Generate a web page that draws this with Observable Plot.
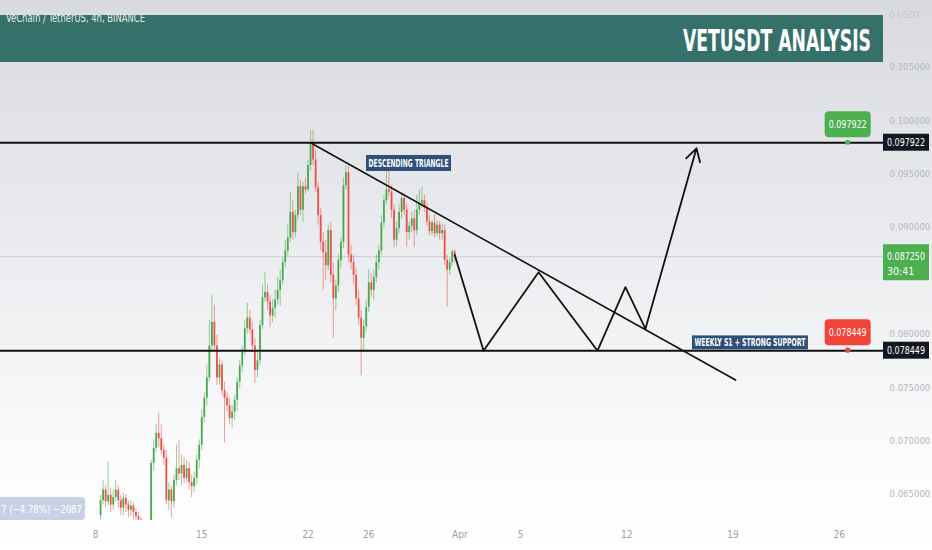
<!DOCTYPE html>
<html><head><meta charset="utf-8">
<script src="https://cdn.jsdelivr.net/npm/d3@7"></script>
<script src="https://cdn.jsdelivr.net/npm/@observablehq/plot@0.6"></script>
<style>
html,body{margin:0;padding:0;background:#fff;}
#wrap{position:relative;width:932px;height:550px;overflow:hidden;
background:linear-gradient(180deg,#d8dadf 0%,#e4e6ea 30%,#f1f2f4 60%,#fcfcfd 85%,#ffffff 100%);}
</style></head><body><div id="wrap"></div>
<script>
const FONT = '"Liberation Sans Narrow","DejaVu Sans Condensed","Roboto Condensed",Roboto,sans-serif';

// ---- data: VET/USDT 4h candles ----
const firstBar = "2021-03-08T08:00:00Z";
const barHours = 4;
const open = [0.0630,0.0644,0.0654,0.0643,0.0649,0.0640,0.0647,0.0654,0.0644,0.0637,
0.0646,0.0640,0.0635,0.0639,0.0633,0.0629,0.0626,0.0616,0.0612,0.0614,
0.0618,0.0679,0.0693,0.0707,0.0702,0.0691,0.0684,0.0644,0.0654,0.0643,
0.0663,0.0674,0.0669,0.0677,0.0665,0.0674,0.0661,0.0657,0.0665,0.0682,
0.0696,0.0722,0.0740,0.0759,0.0789,0.0811,0.0789,0.0759,0.0771,0.0747,
0.0740,0.0733,0.0721,0.0727,0.0738,0.0755,0.0770,0.0785,0.0805,0.0815,
0.0804,0.0789,0.0766,0.0775,0.0808,0.0834,0.0839,0.0830,0.0817,0.0824,
0.0832,0.0841,0.0850,0.0867,0.0878,0.0890,0.0914,0.0895,0.0911,0.0938,
0.0916,0.0938,0.0935,0.0958,0.0977,0.0963,0.0937,0.0911,0.0886,0.0876,
0.0864,0.0897,0.0855,0.0833,0.0845,0.0869,0.0886,0.0939,0.0951,0.0874,
0.0867,0.0855,0.0833,0.0815,0.0796,0.0807,0.0825,0.0848,0.0841,0.0853,
0.0867,0.0878,0.0904,0.0925,0.0935,0.0933,0.0916,0.0888,0.0899,0.0914,
0.0927,0.0916,0.0895,0.0901,0.0908,0.0897,0.0916,0.0922,0.0925,0.0918,
0.0905,0.0896,0.0904,0.0894,0.0902,0.0894,0.0897,0.0869,0.0860,0.0867,
0.0877];
const high = [0.0649,0.0663,0.0658,0.0680,0.0656,0.0654,0.0663,0.0658,0.0649,0.0651,
0.0650,0.0644,0.0644,0.0642,0.0637,0.0633,0.0628,0.0619,0.0618,0.0622,
0.0682,0.0701,0.0715,0.0726,0.0715,0.0696,0.0691,0.0661,0.0658,0.0668,
0.0696,0.0701,0.0687,0.0684,0.0682,0.0680,0.0668,0.0671,0.0687,0.0701,
0.0729,0.0745,0.0771,0.0813,0.0836,0.0827,0.0799,0.0777,0.0775,0.0755,
0.0745,0.0740,0.0733,0.0743,0.0759,0.0775,0.0789,0.0813,0.0829,0.0822,
0.0811,0.0796,0.0783,0.0813,0.0846,0.0858,0.0846,0.0836,0.0832,0.0841,
0.0853,0.0860,0.0871,0.0888,0.0902,0.0933,0.0925,0.0916,0.0951,0.0944,
0.0942,0.0946,0.0963,0.0991,0.0991,0.0972,0.0942,0.0918,0.0895,0.0888,
0.0902,0.0905,0.0867,0.0850,0.0874,0.0890,0.0946,0.0958,0.0957,0.0883,
0.0874,0.0862,0.0841,0.0822,0.0813,0.0832,0.0860,0.0856,0.0860,0.0874,
0.0883,0.0911,0.0930,0.0953,0.0955,0.0939,0.0921,0.0905,0.0921,0.0932,
0.0932,0.0921,0.0905,0.0914,0.0916,0.0930,0.0935,0.0937,0.0930,0.0923,
0.0911,0.0906,0.0912,0.0906,0.0905,0.0903,0.0902,0.0874,0.0871,0.0879,
0.0879];
const low = [0.0626,0.0640,0.0637,0.0639,0.0633,0.0635,0.0643,0.0637,0.0630,0.0630,
0.0633,0.0628,0.0629,0.0626,0.0624,0.0621,0.0611,0.0607,0.0605,0.0609,
0.0616,0.0672,0.0689,0.0694,0.0687,0.0677,0.0640,0.0635,0.0628,0.0637,
0.0658,0.0663,0.0658,0.0660,0.0661,0.0654,0.0647,0.0652,0.0659,0.0674,
0.0691,0.0717,0.0733,0.0755,0.0785,0.0783,0.0752,0.0752,0.0742,0.0698,
0.0727,0.0715,0.0712,0.0719,0.0727,0.0749,0.0764,0.0780,0.0800,0.0800,
0.0783,0.0754,0.0759,0.0771,0.0804,0.0830,0.0822,0.0806,0.0811,0.0815,
0.0827,0.0826,0.0846,0.0862,0.0873,0.0886,0.0888,0.0890,0.0906,0.0911,
0.0905,0.0931,0.0933,0.0953,0.0958,0.0933,0.0902,0.0878,0.0841,0.0850,
0.0860,0.0848,0.0796,0.0822,0.0839,0.0862,0.0880,0.0935,0.0867,0.0860,
0.0846,0.0827,0.0808,0.0761,0.0783,0.0802,0.0820,0.0834,0.0832,0.0848,
0.0860,0.0874,0.0899,0.0921,0.0929,0.0908,0.0881,0.0882,0.0894,0.0908,
0.0911,0.0881,0.0888,0.0895,0.0881,0.0892,0.0911,0.0918,0.0914,0.0901,
0.0892,0.0892,0.0890,0.0891,0.0888,0.0888,0.0864,0.0825,0.0855,0.0863,
0.0867];
const close = [0.0644,0.0654,0.0643,0.0649,0.0640,0.0647,0.0654,0.0644,0.0637,0.0646,
0.0640,0.0635,0.0639,0.0633,0.0629,0.0626,0.0616,0.0612,0.0614,0.0618,
0.0679,0.0693,0.0707,0.0702,0.0691,0.0684,0.0644,0.0654,0.0643,0.0663,
0.0674,0.0669,0.0677,0.0665,0.0674,0.0661,0.0657,0.0665,0.0682,0.0696,
0.0722,0.0740,0.0759,0.0789,0.0811,0.0789,0.0759,0.0771,0.0747,0.0740,
0.0733,0.0721,0.0727,0.0738,0.0755,0.0770,0.0785,0.0805,0.0815,0.0804,
0.0789,0.0766,0.0775,0.0808,0.0834,0.0839,0.0830,0.0817,0.0824,0.0832,
0.0841,0.0850,0.0867,0.0878,0.0890,0.0914,0.0895,0.0911,0.0938,0.0916,
0.0938,0.0935,0.0958,0.0977,0.0963,0.0937,0.0911,0.0886,0.0876,0.0864,
0.0897,0.0855,0.0833,0.0845,0.0869,0.0886,0.0939,0.0951,0.0874,0.0867,
0.0855,0.0833,0.0815,0.0796,0.0807,0.0825,0.0848,0.0841,0.0853,0.0867,
0.0878,0.0904,0.0925,0.0935,0.0933,0.0916,0.0888,0.0899,0.0914,0.0927,
0.0916,0.0895,0.0901,0.0908,0.0897,0.0916,0.0922,0.0925,0.0918,0.0905,
0.0896,0.0904,0.0894,0.0902,0.0894,0.0897,0.0869,0.0860,0.0867,0.0877,
0.0872];

const resistance = 0.097922;
const support = 0.078449;
const lastPrice = 0.087250;
const countdown = "30:41";

const xTickDates = ["2021-03-08","2021-03-15","2021-03-22","2021-03-26","2021-04-01","2021-04-05","2021-04-12","2021-04-19","2021-04-26"];
const xTickLabels = ["8","15","22","26","Apr","5","12","19","26"];
// 0.085000 sits under the current-price tag in the reference
const yTicks = [0.065,0.070,0.075,0.080,0.090,0.095,0.100,0.105];

// descending triangle upper trend line
const trendDates = ["2021-03-22T04:00Z","2021-04-19T04:00Z"];
const trendPrices = [0.097922,0.0757];
// projected zig-zag path (last segment is the arrow)
const pathDates = ["2021-03-31T16:00Z","2021-04-02T13:30Z","2021-04-06T04:30Z","2021-04-10T01:40Z","2021-04-11T21:50Z","2021-04-13T05:30Z","2021-04-16T14:10Z"];
const pathPrices = [0.0874,0.07845,0.0858,0.07845,0.0844,0.0805,0.0974];

const annotations = [
  {text:"DESCENDING TRIANGLE", date:"2021-03-28T15:40Z", price:0.09598, w:85, h:16, len:80},
  {text:"WEEKLY S1 + STRONG SUPPORT", date:"2021-04-20T03:30Z", price:0.07918, w:116, h:14, len:111}
];
const markerDate = "2021-04-26T14:00Z";
const titleText = "VETUSDT ANALYSIS";
const subtitleText = "VeChain / TetherUS, 4h, BINANCE";
const measureText = "7 (−4.78%) −2087";

// ---- build ----
const t0 = +new Date(firstBar);
const bars = open.map((o,i)=>({date:new Date(t0 + i*barHours*3600e3), open:o, high:high[i], low:low[i], close:close[i]}));
const GREEN = "#43a547", RED = "#ef4a43";
const col = d => d.close >= d.open ? GREEN : RED;
const trend = trendDates.map((d,i)=>({date:new Date(d), price:trendPrices[i]}));
const path = pathDates.map((d,i)=>({date:new Date(d), price:pathPrices[i]}));
const lastSeg = [{x1:path[5].date, y1:path[5].price, x2:path[6].date, y2:path[6].price}];
const labelMap = new Map(xTickDates.map((d,i)=>[+new Date(d+"T00:00Z"), xTickLabels[i]]));

const chart = Plot.plot({
  width:932, height:550, marginLeft:0, marginRight:47, marginTop:0, marginBottom:30,
  style:{background:"transparent", fontFamily:FONT, fontSize:"10px", overflow:"visible"},
  x:{type:"utc", domain:[new Date("2021-03-01T17:48Z"), new Date("2021-04-29T01:00Z")], label:null},
  y:{domain:[0.06255,0.11124], label:null},
  color:{type:"identity"},
  marks:[
    Plot.ruleY([lastPrice], {stroke:"#8f96a0", strokeOpacity:0.45, strokeWidth:0.8}),
    Plot.ruleX(bars, {x:"date", y1:"low", y2:"high", stroke:col, strokeWidth:1, strokeOpacity:0.55, clip:true}),
    Plot.ruleX(bars, {x:"date", y1:"open", y2:"close", stroke:col, strokeWidth:1.8, strokeOpacity:0.95, clip:true}),
    Plot.ruleY([resistance, support], {stroke:"#111", strokeWidth:2}),
    Plot.line(trend, {x:"date", y:"price", stroke:"#111", strokeWidth:1.6}),
    Plot.line(path.slice(0,6), {x:"date", y:"price", stroke:"#111", strokeWidth:1.8}),
    Plot.arrow(lastSeg, {x1:"x1", y1:"y1", x2:"x2", y2:"y2", stroke:"#111", strokeWidth:1.8, headLength:12, bend:0}),
    Plot.axisY({anchor:"right", ticks:yTicks, tickFormat:d3.format(".6f"), tickSize:0, tickPadding:4, fill:"#b3b7bf", fontSize:9.5}),
    Plot.axisX({ticks:xTickDates.map(d=>new Date(d+"T00:00Z")), tickFormat:d=>labelMap.get(+d), tickSize:0, tickPadding:10, fill:"#9da0a7", fontSize:10})
  ]
});
document.getElementById("wrap").appendChild(chart);

const svg = d3.select(chart);
const X = chart.scale("x"), Y = chart.scale("y");
const g = svg.append("g").attr("font-family", FONT).attr("text-anchor","start");

// header banner
g.append("rect").attr("x",0).attr("y",15).attr("width",883).attr("height",47).attr("fill","#36706a");
g.append("text").attr("transform","translate(683,40) scale(1,1.4)").attr("text-anchor","start").attr("dominant-baseline","central")
 .attr("font-size",22).attr("font-weight","bold").attr("fill","#fff")
 .attr("textLength",188).attr("lengthAdjust","spacingAndGlyphs").text(titleText);
g.append("text").attr("x",6).attr("y",18).attr("text-anchor","start").attr("dominant-baseline","central")
 .attr("font-size",11.5).attr("fill","#e3e8e7")
 .attr("textLength",139).attr("lengthAdjust","spacingAndGlyphs").text(subtitleText);
g.append("text").attr("x",889).attr("y",14).attr("text-anchor","start").attr("dominant-baseline","central")
 .attr("font-size",9.5).attr("fill","#c3c6cc").text("0.USDT");

// right price boxes for horizontal lines
for (const v of [resistance, support]) {
  const y = Y.apply(v);
  g.append("rect").attr("x",883).attr("y",y-8.5).attr("width",46).attr("height",17).attr("fill","#131722");
  g.append("text").attr("x",887).attr("y",y).attr("text-anchor","start").attr("dominant-baseline","central")
   .attr("font-size",10.5).attr("fill","#fff").attr("textLength",38).attr("lengthAdjust","spacingAndGlyphs")
   .text(d3.format(".6f")(v));
}
// current price box
{
  const y = Y.apply(lastPrice);
  g.append("rect").attr("x",883).attr("y",y-12).attr("width",46).attr("height",36).attr("fill","#4caf50");
  g.append("text").attr("x",887).attr("y",y).attr("text-anchor","start").attr("dominant-baseline","central")
   .attr("font-size",10.5).attr("fill","#fff").attr("textLength",38).attr("lengthAdjust","spacingAndGlyphs")
   .text(d3.format(".6f")(lastPrice));
  g.append("text").attr("x",887).attr("y",y+15).attr("text-anchor","start").attr("dominant-baseline","central")
   .attr("font-size",10.5).attr("fill","#fff").text(countdown);
}
// price pills above lines
const mx = X.apply(new Date(markerDate));
for (const [v, c] of [[resistance, "#4caf50"], [support, "#f0433a"]]) {
  const y = Y.apply(v);
  g.append("rect").attr("x",mx-23).attr("y",y-31).attr("width",46).attr("height",26).attr("rx",4).attr("fill",c);
  g.append("text").attr("x",mx-19).attr("y",y-18).attr("text-anchor","start").attr("dominant-baseline","central")
   .attr("font-size",10.5).attr("fill","#fff").attr("textLength",38).attr("lengthAdjust","spacingAndGlyphs")
   .text(d3.format(".6f")(v));
  g.append("circle").attr("cx",mx).attr("cy",y).attr("r",2.6).attr("fill",c);
}
// annotation tags
for (const a of annotations) {
  const x = X.apply(new Date(a.date)), y = Y.apply(a.price);
  g.append("rect").attr("x",x-a.w/2).attr("y",y-a.h/2).attr("width",a.w).attr("height",a.h).attr("fill","#2d5079");
  g.append("text").attr("x",x-a.len/2).attr("y",y+0.5).attr("text-anchor","start").attr("dominant-baseline","central")
   .attr("font-size",10).attr("font-weight","bold").attr("fill","#fff")
   .attr("textLength",a.len).attr("lengthAdjust","spacingAndGlyphs").text(a.text);
}
// measure box bottom-left
g.append("rect").attr("x",-6).attr("y",497).attr("width",91).attr("height",23).attr("rx",4).attr("fill","#c7d3e4");
g.append("text").attr("x",1).attr("y",509).attr("text-anchor","start").attr("dominant-baseline","central")
 .attr("font-size",11).attr("fill","#fff").attr("textLength",81).attr("lengthAdjust","spacingAndGlyphs").text(measureText);
</script></body></html>
